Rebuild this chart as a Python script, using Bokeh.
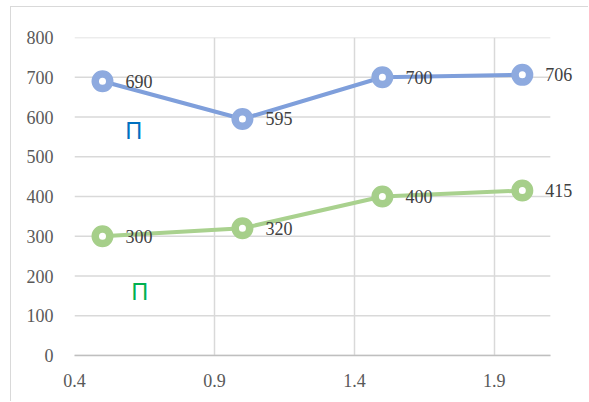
from bokeh.plotting import figure
from bokeh.models import Range1d, FixedTicker, ColumnDataSource, LabelSet
from bokeh.core.properties import value
from bokeh.embed import file_html
from bokeh.resources import INLINE

# Data
x_vals = [0.5, 1.0, 1.5, 2.0]
blue_vals = [690, 595, 700, 706]
green_vals = [300, 320, 400, 415]
x_ticks = [0.4, 0.9, 1.4, 1.9]
y_ticks = [0, 100, 200, 300, 400, 500, 600, 700, 800]
x_axis_span = (0.4, 2.1)

# Free-standing series markers ("П") placed in data space
note_text = ["П", "П"]
note_x = [0.582, 0.604]
note_y = [564, 160]
note_colors = ["#0070C0", "#00B050"]

BLUE_LINE, BLUE_MARK = "#7f9fdb", "#8eaadf"
GREEN_LINE, GREEN_MARK = "#a9d18e", "#a6cf8a"
GRID = "#d9d9d9"
SERIF = "Liberation Serif"

# The frame runs to the right edge so the end labels have room;
# the plot area itself (grid and axis) stops at x_axis_span[1].
p = figure(
    width=578, height=395,
    x_range=Range1d(0.4, 2.24), y_range=Range1d(0, 800),
    output_backend="svg", toolbar_location=None,
    min_border_left=63, min_border_right=0,
    min_border_top=30, min_border_bottom=47,
    margin=(6, 0, 0, 10),
    styles={"border-left": f"1.5px solid {GRID}", "border-top": f"1.5px solid {GRID}"},
)
p.outline_line_color = None
p.background_fill_color = "white"
p.border_fill_color = "white"

# Axes
p.xaxis.ticker = FixedTicker(ticks=x_ticks)
p.yaxis.ticker = FixedTicker(ticks=y_ticks)
p.xaxis.major_label_overrides = {t: f"{t:.1f}" for t in x_ticks}
for ax in (p.xaxis[0], p.yaxis[0]):
    ax.major_tick_line_color = None
    ax.minor_tick_line_color = None
    ax.major_label_text_font = SERIF
    ax.major_label_text_font_size = "18px"
    ax.major_label_text_color = "#595959"
p.yaxis.axis_line_color = None
p.yaxis.major_label_standoff = 15
p.xaxis.axis_line_color = "#bfbfbf"
p.xaxis.axis_line_width = 1.5
p.xaxis.bounds = x_axis_span
p.xaxis.major_label_standoff = 12

# Grid: vertical lines at the ticks, horizontal lines only across the plot area
p.xgrid.ticker = FixedTicker(ticks=x_ticks)
p.xgrid.grid_line_color = GRID
p.xgrid.grid_line_width = 1.5
p.ygrid.grid_line_color = None
p.segment(x0=[x_axis_span[0]] * len(y_ticks), y0=y_ticks,
          x1=[x_axis_span[1]] * len(y_ticks), y1=y_ticks,
          line_color=GRID, line_width=1.5)

# Series
for vals, lc, mc in ((blue_vals, BLUE_LINE, BLUE_MARK), (green_vals, GREEN_LINE, GREEN_MARK)):
    src = ColumnDataSource(dict(x=x_vals, y=vals, lbl=[str(v) for v in vals]))
    p.line("x", "y", source=src, line_color=lc, line_width=4)
    p.scatter("x", "y", source=src, marker="circle", size=14.5,
              fill_color="white", line_color=mc, line_width=7.5)
    p.add_layout(LabelSet(x="x", y="y", text="lbl", source=src,
                          x_offset=23, y_offset=0,
                          text_baseline="middle", text_align="left",
                          text_font=SERIF, text_font_size="18px",
                          text_color="#404040"))

# Series markers
nsrc = ColumnDataSource(dict(x=note_x, y=note_y, t=note_text, c=note_colors))
p.text("x", "y", text="t", source=nsrc, text_color="c",
       text_font=value("Liberation Sans"), text_font_size="23px",
       text_align="left", text_baseline="middle")

open("out.html", "w").write(file_html(p, INLINE))
